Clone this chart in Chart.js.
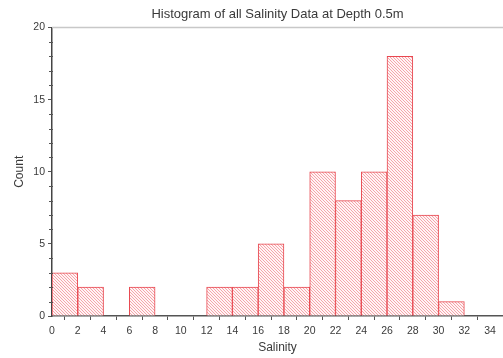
<!DOCTYPE html>
<html>
<head>
<meta charset="utf-8">
<script src="https://cdn.jsdelivr.net/npm/chart.js@4/dist/chart.umd.min.js"></script>
<style>
  html, body { margin: 0; padding: 0; background: #fff; }
  #wrap { width: 503px; height: 358px; position: relative; }
</style>
</head>
<body>
<div id="wrap"><canvas id="c"></canvas></div>
<script>
// Salinity histogram: bin centres (2-unit wide bins from 0 to 34) and counts
const binCenters = [1, 3, 5, 7, 9, 11, 13, 15, 17, 19, 21, 23, 25, 27, 29, 31, 33];
const counts     = [3, 2, 0, 2, 0, 0, 2, 2, 5, 2, 10, 8, 10, 18, 7, 1, 0];
const xTickStep = 2;
const yMajorTicks = [0, 5, 10, 15, 20];

// diagonal red hatch used to fill the bars
function makeHatch() {
  const s = 3;
  const t = document.createElement('canvas');
  t.width = s; t.height = s;
  const g = t.getContext('2d');
  g.fillStyle = '#fff4f5';
  g.fillRect(0, 0, s, s);
  g.strokeStyle = 'rgba(236,96,106,0.6)';
  g.lineWidth = 0.9;
  for (const off of [-s, 0, s]) {
    g.beginPath();
    g.moveTo(off, 0);
    g.lineTo(off + s, s);
    g.stroke();
  }
  return g.createPattern(t, 'repeat');
}

// light frame line on top of the plot area plus minor y ticks
const framePlugin = {
  id: 'frame',
  afterDraw(chart) {
    const { ctx, chartArea: a } = chart;
    const y = chart.scales.y;
    ctx.save();
    ctx.strokeStyle = '#c8c8c8';
    ctx.lineWidth = 1.5;
    ctx.beginPath();
    ctx.moveTo(a.left, a.top);
    ctx.lineTo(a.right, a.top);
    ctx.stroke();
    ctx.strokeStyle = '#555';
    ctx.lineWidth = 1;
    for (let v = 0; v <= 20; v++) {
      if (v % 5 === 0) continue;
      const py = Math.round(y.getPixelForValue(v)) + 0.5;
      ctx.beginPath();
      ctx.moveTo(a.left - 3, py);
      ctx.lineTo(a.left + 1, py);
      ctx.stroke();
    }
    ctx.restore();
  }
};

const textColor = '#3a3a3a';
const fontFamily = '"Liberation Sans", Arial, sans-serif';

new Chart(document.getElementById('c'), {
  type: 'bar',
  data: {
    datasets: [{
      data: binCenters.map((x, i) => ({ x: x, y: counts[i] })),
      backgroundColor: makeHatch(),
      borderColor: '#e8474f',
      borderWidth: 1,
      borderSkipped: 'bottom',
      barPercentage: 1.0,
      categoryPercentage: 1.0
    }]
  },
  options: {
    responsive: true,
    maintainAspectRatio: false,
    animation: false,
    layout: { padding: { left: 0, right: 0, top: 0, bottom: 0 } },
    plugins: {
      legend: { display: false },
      tooltip: { enabled: false },
      title: {
        display: true,
        text: 'Histogram of all Salinity Data at Depth 0.5m',
        fullSize: false,
        color: textColor,
        font: { family: fontFamily, size: 13, weight: 'normal' },
        padding: { top: 7, bottom: 5 }
      }
    },
    scales: {
      x: {
        type: 'linear',
        min: 0,
        max: 35,
        offset: false,
        afterFit(s) { s.height = 42; },
        border: { display: true, color: '#555', width: 1.5 },
        grid: { display: true, drawOnChartArea: false, drawTicks: true, tickLength: 4, tickColor: '#555' },
        ticks: {
          stepSize: xTickStep,
          includeBounds: false,
          maxRotation: 0,
          autoSkip: false,
          padding: 5,
          color: textColor,
          font: { family: fontFamily, size: 10.5 }
        },
        title: {
          display: true,
          text: 'Salinity',
          color: textColor,
          font: { family: fontFamily, size: 12 },
          padding: { top: 2, bottom: 3 }
        }
      },
      y: {
        min: 0,
        max: 20,
        afterFit(s) { s.width = 52; },
        border: { display: true, color: '#444', width: 1.5 },
        grid: {
          display: true,
          drawOnChartArea: false,
          drawTicks: true,
          tickLength: 4,
          tickColor: '#555'
        },
        afterBuildTicks(s) { s.ticks = yMajorTicks.map(v => ({ value: v })); },
        ticks: {
          padding: 3,
          color: textColor,
          font: { family: fontFamily, size: 10.5 }
        },
        title: {
          display: true,
          text: 'Count',
          color: textColor,
          font: { family: fontFamily, size: 12 },
          padding: { top: 12, bottom: 4 }
        }
      }
    }
  },
  plugins: [framePlugin]
});
</script>
</body>
</html>
